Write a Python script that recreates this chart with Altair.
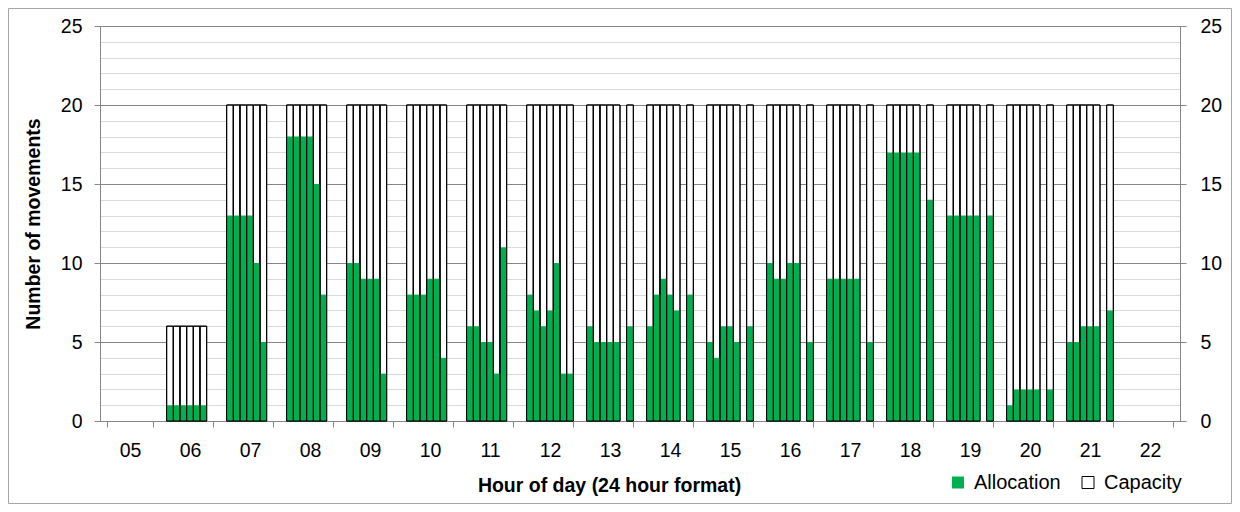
import altair as alt
import pandas as pd

FONT = "Liberation Sans"

# Hour categories on the x axis
HOURS = ["05", "06", "07", "08", "09", "10", "11", "12", "13",
         "14", "15", "16", "17", "18", "19", "20", "21", "22"]
SLOTS = [0, 1, 2, 3, 4, 5, 6]

# Allocation per slot (None = no slot)
alloc_06 = [1, 1, 1, 1, 1, 1, None]
alloc_07 = [13, 13, 13, 13, 10, 5, None]
alloc_08 = [18, 18, 18, 18, 15, 8, None]
alloc_09 = [10, 10, 9, 9, 9, 3, None]
alloc_10 = [8, 8, 8, 9, 9, 4, None]
alloc_11 = [6, 6, 5, 5, 3, 11, None]
alloc_12 = [8, 7, 6, 7, 10, 3, 3]
alloc_13 = [6, 5, 5, 5, 5, None, 6]
alloc_14 = [6, 8, 9, 8, 7, None, 8]
alloc_15 = [5, 4, 6, 6, 5, None, 6]
alloc_16 = [10, 9, 9, 10, 10, None, 5]
alloc_17 = [9, 9, 9, 9, 9, None, 5]
alloc_18 = [17, 17, 17, 17, 17, None, 14]
alloc_19 = [13, 13, 13, 13, 13, None, 13]
alloc_20 = [1, 2, 2, 2, 2, None, 2]
alloc_21 = [5, 5, 6, 6, 6, None, 7]

# Capacity per slot (None = no slot)
cap_06 = [6, 6, 6, 6, 6, 6, None]
cap_07 = [20, 20, 20, 20, 20, 20, None]
cap_08 = [20, 20, 20, 20, 20, 20, None]
cap_09 = [20, 20, 20, 20, 20, 20, None]
cap_10 = [20, 20, 20, 20, 20, 20, None]
cap_11 = [20, 20, 20, 20, 20, 20, None]
cap_12 = [20, 20, 20, 20, 20, 20, 20]
cap_13 = [20, 20, 20, 20, 20, None, 20]
cap_14 = [20, 20, 20, 20, 20, None, 20]
cap_15 = [20, 20, 20, 20, 20, None, 20]
cap_16 = [20, 20, 20, 20, 20, None, 20]
cap_17 = [20, 20, 20, 20, 20, None, 20]
cap_18 = [20, 20, 20, 20, 20, None, 20]
cap_19 = [20, 20, 20, 20, 20, None, 20]
cap_20 = [20, 20, 20, 20, 20, None, 20]
cap_21 = [20, 20, 20, 20, 20, None, 20]

alloc_by_hour = {"06": alloc_06, "07": alloc_07, "08": alloc_08, "09": alloc_09,
                 "10": alloc_10, "11": alloc_11, "12": alloc_12, "13": alloc_13,
                 "14": alloc_14, "15": alloc_15, "16": alloc_16, "17": alloc_17,
                 "18": alloc_18, "19": alloc_19, "20": alloc_20, "21": alloc_21}
cap_by_hour = {"06": cap_06, "07": cap_07, "08": cap_08, "09": cap_09,
               "10": cap_10, "11": cap_11, "12": cap_12, "13": cap_13,
               "14": cap_14, "15": cap_15, "16": cap_16, "17": cap_17,
               "18": cap_18, "19": cap_19, "20": cap_20, "21": cap_21}

cap_rows, alloc_rows = [], []
for h in HOURS:
    if h not in cap_by_hour:
        continue
    for s in SLOTS:
        c = cap_by_hour[h][s]
        a = alloc_by_hour[h][s]
        if c is not None:
            cap_rows.append({"hour": h, "slot": s, "value": c, "series": "Capacity"})
        if a is not None:
            alloc_rows.append({"hour": h, "slot": s, "value": a, "series": "Allocation"})

cap_df = pd.DataFrame(cap_rows)
alloc_df = pd.DataFrame(alloc_rows)
frame_df = pd.DataFrame({"k": [0]})

AXIS_GRAY = "#868686"

x_scale = alt.Scale(domain=HOURS, paddingInner=2 / 9, paddingOuter=1 / 9)
xo_scale = alt.Scale(domain=SLOTS, paddingInner=0, paddingOuter=0)
y_scale = alt.Scale(domain=[0, 25], nice=False, zero=True)
MAJOR = [0, 5, 10, 15, 20, 25]

x_axis_main = alt.Axis(
    orient="bottom",
    title="Hour of day (24 hour format)", titleFont=FONT, titleFontSize=19.5,
    titleFontWeight="bold", titleColor="#000000", titleX=509, titleY=70,
    titleAlign="center", titleBaseline="alphabetic",
    labelAngle=0, labelFont=FONT, labelFontSize=19.5, labelColor="#000000",
    labelBaseline="alphabetic", labelPadding=29,
    tickBand="extent", tickSize=6, tickColor=AXIS_GRAY, domainColor=AXIS_GRAY,
    grid=False,
)

y_axis_minor = alt.Axis(orient="left", values=list(range(26)), grid=True,
                        gridColor="#D9D9D9", labels=False, ticks=False,
                        domain=False, title=None)

y_axis_left = alt.Axis(
    orient="left",
    values=MAJOR, grid=True, gridColor=AXIS_GRAY, tickSize=6, tickColor=AXIS_GRAY,
    domainColor=AXIS_GRAY, labelFont=FONT, labelFontSize=19.5, labelColor="#000000",
    labelPadding=12, title="Number of movements", titleFont=FONT, titleFontSize=19.5,
    titleFontWeight="bold", titleColor="#000000", titleX=-67, titleY=197.5,
    titleAngle=270, titleAlign="center", titleBaseline="middle",
)

y_axis_right = alt.Axis(
    orient="right", values=MAJOR, grid=False, tickSize=6, tickColor=AXIS_GRAY,
    domainColor=AXIS_GRAY, labelFont=FONT, labelFontSize=19.5, labelColor="#000000",
    labelPadding=14, title=None,
)

frame = alt.Chart(frame_df).mark_rect(
    fillOpacity=0, stroke="#A6A6A6", strokeWidth=1
).encode(
    x=alt.value(-91.5), x2=alt.value(1131.5), y=alt.value(-17.5), y2=alt.value(477.5)
)

cap_fill = alt.Chart(cap_df).mark_bar(fill="white", strokeWidth=1).encode(
    x=alt.X("hour:N", scale=x_scale, axis=x_axis_main),
    xOffset=alt.XOffset("slot:O", scale=xo_scale),
    y=alt.Y("value:Q", scale=y_scale, axis=y_axis_minor),
    stroke=alt.Stroke("series:N", scale=alt.Scale(domain=["Capacity"], range=["#000000"]),
                      legend=alt.Legend(orient="none", legendX=978, legendY=446.5,
                                        title=None, padding=0, symbolType="square",
                                        symbolSize=144, symbolStrokeWidth=1,
                                        symbolFillColor="white",
                                        labelFont=FONT, labelFontSize=20,
                                        labelColor="#000000", labelOffset=6)),
)

alloc = alt.Chart(alloc_df).mark_bar().encode(
    x=alt.X("hour:N", scale=x_scale, axis=None),
    xOffset=alt.XOffset("slot:O", scale=xo_scale),
    y=alt.Y("value:Q", scale=y_scale, axis=y_axis_left),
    color=alt.Color("series:N", scale=alt.Scale(domain=["Allocation"], range=["#00B050"]),
                    legend=alt.Legend(orient="none", legendX=848, legendY=446.5,
                                      title=None, padding=0, symbolType="square",
                                      symbolSize=144, symbolStrokeWidth=0,
                                      labelFont=FONT, labelFontSize=20,
                                      labelColor="#000000", labelOffset=6)),
)

cap_outline = alt.Chart(cap_df).mark_bar(
    fillOpacity=0, stroke="#000000", strokeWidth=1
).encode(
    x=alt.X("hour:N", scale=x_scale, axis=None),
    xOffset=alt.XOffset("slot:O", scale=xo_scale),
    y=alt.Y("value:Q", scale=y_scale, axis=y_axis_right),
)

chart = alt.layer(frame, cap_fill, alloc, cap_outline).resolve_axis(
    x="independent", y="independent"
).properties(
    width=1080, height=395,
    autosize=alt.AutoSizeParams(type="none"),
    padding={"left": 92, "top": 18, "right": 52, "bottom": 83},
).configure_view(stroke=None).configure(background="white")

chart.save("out.html", embed_options={"renderer": "svg", "actions": False})
